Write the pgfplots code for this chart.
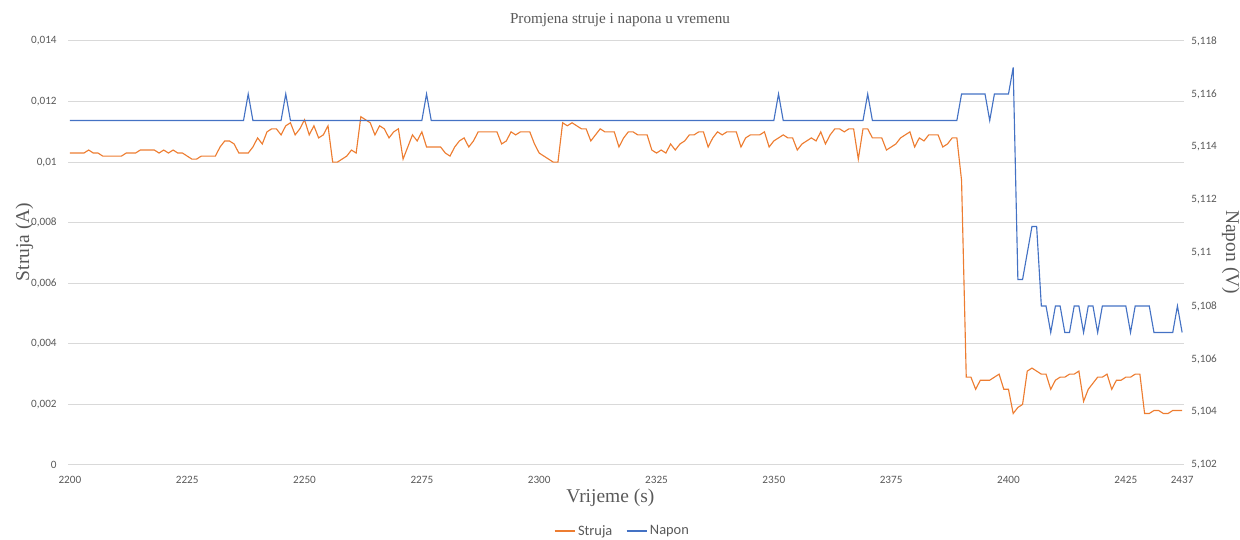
\documentclass[border=0pt]{standalone}
\usepackage{fontspec}
\setmainfont{Liberation Serif}
\newfontfamily\carlito{Carlito}
\usepackage{pgfplots}
\usepackage{pgfplotstable}
\pgfplotsset{compat=1.18}
\definecolor{cOrange}{HTML}{ED7D31}
\definecolor{cBlue}{HTML}{4472C4}
\definecolor{cGrid}{HTML}{D9D9D9}
\definecolor{cText}{HTML}{595959}

\pgfplotstableread{
t I U
2200 0.0103 5.115
2201 0.0103 5.115
2202 0.0103 5.115
2203 0.0103 5.115
2204 0.0104 5.115
2205 0.0103 5.115
2206 0.0103 5.115
2207 0.0102 5.115
2208 0.0102 5.115
2209 0.0102 5.115
2210 0.0102 5.115
2211 0.0102 5.115
2212 0.0103 5.115
2213 0.0103 5.115
2214 0.0103 5.115
2215 0.0104 5.115
2216 0.0104 5.115
2217 0.0104 5.115
2218 0.0104 5.115
2219 0.0103 5.115
2220 0.0104 5.115
2221 0.0103 5.115
2222 0.0104 5.115
2223 0.0103 5.115
2224 0.0103 5.115
2225 0.0102 5.115
2226 0.0101 5.115
2227 0.0101 5.115
2228 0.0102 5.115
2229 0.0102 5.115
2230 0.0102 5.115
2231 0.0102 5.115
2232 0.0105 5.115
2233 0.0107 5.115
2234 0.0107 5.115
2235 0.0106 5.115
2236 0.0103 5.115
2237 0.0103 5.115
2238 0.0103 5.116
2239 0.0105 5.115
2240 0.0108 5.115
2241 0.0106 5.115
2242 0.0110 5.115
2243 0.0111 5.115
2244 0.0111 5.115
2245 0.0109 5.115
2246 0.0112 5.116
2247 0.0113 5.115
2248 0.0109 5.115
2249 0.0111 5.115
2250 0.0114 5.115
2251 0.0109 5.115
2252 0.0112 5.115
2253 0.0108 5.115
2254 0.0109 5.115
2255 0.0112 5.115
2256 0.0100 5.115
2257 0.0100 5.115
2258 0.0101 5.115
2259 0.0102 5.115
2260 0.0104 5.115
2261 0.0103 5.115
2262 0.0115 5.115
2263 0.0114 5.115
2264 0.0113 5.115
2265 0.0109 5.115
2266 0.0112 5.115
2267 0.0111 5.115
2268 0.0108 5.115
2269 0.0110 5.115
2270 0.0111 5.115
2271 0.0101 5.115
2272 0.0105 5.115
2273 0.0109 5.115
2274 0.0107 5.115
2275 0.0110 5.115
2276 0.0105 5.116
2277 0.0105 5.115
2278 0.0105 5.115
2279 0.0105 5.115
2280 0.0103 5.115
2281 0.0102 5.115
2282 0.0105 5.115
2283 0.0107 5.115
2284 0.0108 5.115
2285 0.0105 5.115
2286 0.0107 5.115
2287 0.0110 5.115
2288 0.0110 5.115
2289 0.0110 5.115
2290 0.0110 5.115
2291 0.0110 5.115
2292 0.0106 5.115
2293 0.0107 5.115
2294 0.0110 5.115
2295 0.0109 5.115
2296 0.0110 5.115
2297 0.0110 5.115
2298 0.0110 5.115
2299 0.0106 5.115
2300 0.0103 5.115
2301 0.0102 5.115
2302 0.0101 5.115
2303 0.0100 5.115
2304 0.0100 5.115
2305 0.0113 5.115
2306 0.0112 5.115
2307 0.0113 5.115
2308 0.0112 5.115
2309 0.0111 5.115
2310 0.0111 5.115
2311 0.0107 5.115
2312 0.0109 5.115
2313 0.0111 5.115
2314 0.0110 5.115
2315 0.0110 5.115
2316 0.0110 5.115
2317 0.0105 5.115
2318 0.0108 5.115
2319 0.0110 5.115
2320 0.0110 5.115
2321 0.0109 5.115
2322 0.0109 5.115
2323 0.0109 5.115
2324 0.0104 5.115
2325 0.0103 5.115
2326 0.0104 5.115
2327 0.0103 5.115
2328 0.0106 5.115
2329 0.0104 5.115
2330 0.0106 5.115
2331 0.0107 5.115
2332 0.0109 5.115
2333 0.0109 5.115
2334 0.0110 5.115
2335 0.0110 5.115
2336 0.0105 5.115
2337 0.0108 5.115
2338 0.0110 5.115
2339 0.0109 5.115
2340 0.0110 5.115
2341 0.0110 5.115
2342 0.0110 5.115
2343 0.0105 5.115
2344 0.0108 5.115
2345 0.0109 5.115
2346 0.0109 5.115
2347 0.0109 5.115
2348 0.0110 5.115
2349 0.0105 5.115
2350 0.0107 5.115
2351 0.0108 5.116
2352 0.0109 5.115
2353 0.0108 5.115
2354 0.0108 5.115
2355 0.0104 5.115
2356 0.0106 5.115
2357 0.0107 5.115
2358 0.0108 5.115
2359 0.0107 5.115
2360 0.0110 5.115
2361 0.0106 5.115
2362 0.0109 5.115
2363 0.0111 5.115
2364 0.0111 5.115
2365 0.0110 5.115
2366 0.0111 5.115
2367 0.0111 5.115
2368 0.0101 5.115
2369 0.0111 5.115
2370 0.0111 5.116
2371 0.0108 5.115
2372 0.0108 5.115
2373 0.0108 5.115
2374 0.0104 5.115
2375 0.0105 5.115
2376 0.0106 5.115
2377 0.0108 5.115
2378 0.0109 5.115
2379 0.0110 5.115
2380 0.0105 5.115
2381 0.0108 5.115
2382 0.0107 5.115
2383 0.0109 5.115
2384 0.0109 5.115
2385 0.0109 5.115
2386 0.0105 5.115
2387 0.0106 5.115
2388 0.0108 5.115
2389 0.0108 5.115
2390 0.0094 5.116
2391 0.0029 5.116
2392 0.0029 5.116
2393 0.0025 5.116
2394 0.0028 5.116
2395 0.0028 5.116
2396 0.0028 5.115
2397 0.0029 5.116
2398 0.0030 5.116
2399 0.0025 5.116
2400 0.0025 5.116
2401 0.0017 5.117
2402 0.0019 5.109
2403 0.0020 5.109
2404 0.0031 5.110
2405 0.0032 5.111
2406 0.0031 5.111
2407 0.0030 5.108
2408 0.0030 5.108
2409 0.0025 5.107
2410 0.0028 5.108
2411 0.0029 5.108
2412 0.0029 5.107
2413 0.0030 5.107
2414 0.0030 5.108
2415 0.0031 5.108
2416 0.0021 5.107
2417 0.0025 5.108
2418 0.0027 5.108
2419 0.0029 5.107
2420 0.0029 5.108
2421 0.0030 5.108
2422 0.0025 5.108
2423 0.0028 5.108
2424 0.0028 5.108
2425 0.0029 5.108
2426 0.0029 5.107
2427 0.0030 5.108
2428 0.0030 5.108
2429 0.0017 5.108
2430 0.0017 5.108
2431 0.0018 5.107
2432 0.0018 5.107
2433 0.0017 5.107
2434 0.0017 5.107
2435 0.0018 5.107
2436 0.0018 5.108
2437 0.0018 5.107
}\data

\pgfplotsset{
  common/.style={
    at={(51bp,56.25bp)}, anchor=south west,
    scale only axis, width=837bp, height=318bp,
    xmin=2199.6, xmax=2437.4,
    scaled y ticks=false, scaled x ticks=false,
    axis line style={draw=none},
    tick style={draw=none},
    ticklabel style={font=\carlito\fontsize{8.4bp}{9bp}\selectfont, text=cText},
    label style={font=\fontsize{14.6bp}{17bp}\selectfont, text=cText},
  }
}

\begin{document}
\begin{tikzpicture}
\useasboundingbox (0,0) rectangle (930bp,405bp);
\begin{axis}[common,
  axis x line*=bottom, axis y line*=left,
  ymin=0, ymax=0.014,
  ytick={0,0.002,0.004,0.006,0.008,0.01,0.012,0.014},
  yticklabels={0,{0,002},{0,004},{0,006},{0,008},{0,01},{0,012},{0,014}},
  xtick={2200,2225,2250,2275,2300,2325,2350,2375,2400,2425,2437},
  xticklabels={2200,2225,2250,2275,2300,2325,2350,2375,2400,2425,2437},
  ymajorgrids, major grid style={cGrid, line width=0.75bp},
  yticklabel style={xshift=-5bp},
  xticklabel style={yshift=-5bp},
  every axis title shift=0pt,
  title={Promjena struje i napona u vremenu},
  title style={at={(axis description cs:0.4946,1.050)}, anchor=center,
    font=\fontsize{11.4bp}{13bp}\selectfont, text=cText},
  xlabel={Vrijeme (s)},
  xlabel style={at={(axis description cs:0.486,-0.0785)}, anchor=center},
  ylabel={Struja (A)},
  ylabel style={at={(axis description cs:-0.039,0.526)}, anchor=center},
]
\addplot[cOrange, line width=0.85bp, no markers] table[x=t, y=I] {\data};
\end{axis}
\begin{axis}[common,
  hide x axis, axis y line*=right,
  ymin=5.102, ymax=5.118,
  ytick={5.102,5.104,5.106,5.108,5.110,5.112,5.114,5.116,5.118},
  yticklabels={{5,102},{5,104},{5,106},{5,108},{5,11},{5,112},{5,114},{5,116},{5,118}},
  yticklabel style={xshift=2bp},
  ylabel={Napon (V)},
  ylabel style={at={(axis description cs:1.042,0.502)}, anchor=center, rotate=180},
  legend columns=2,
  legend style={draw=none, fill=none, at={(axis description cs:0.497,-0.156)}, anchor=center,
    font=\carlito\fontsize{10.8bp}{12bp}\selectfont, text=cText,
    /tikz/every even column/.append style={column sep=8bp}},
]
\addlegendimage{legend image code/.code={\draw[draw=cOrange, line width=1.2bp] (0bp,0bp) -- (15bp,0bp);}}
\addlegendentry{Struja}
\addplot[cBlue, line width=0.85bp, no markers,
  legend image code/.code={\draw[draw=cBlue, line width=1.2bp] (0bp,0bp) -- (15bp,0bp);}] table[x=t, y=U] {\data};
\addlegendentry{Napon}
\end{axis}
\end{tikzpicture}
\end{document}
